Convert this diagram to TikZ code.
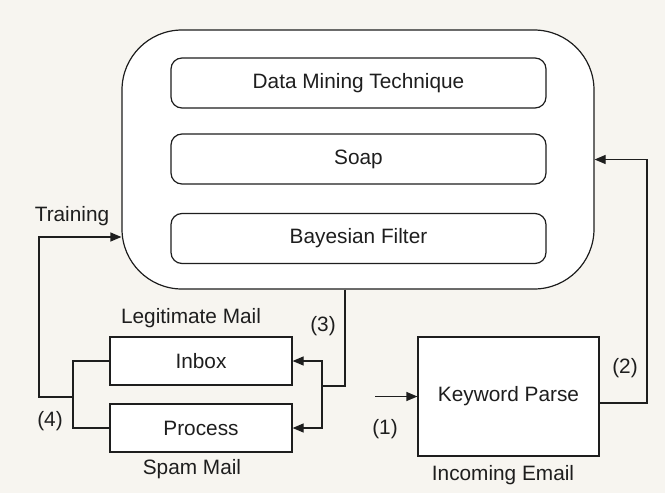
\documentclass[tikz,border=0pt]{standalone}
\usepackage{fontspec}
\setmainfont{Liberation Sans}
\usetikzlibrary{arrows.meta}
\definecolor{paper}{RGB}{247,245,240}
\definecolor{ink}{RGB}{30,30,30}

\begin{document}
\begin{tikzpicture}[x=1pt, y=-1pt,
        every node/.style={font=\fontsize{20.8}{24}\selectfont, text=ink},
        wire/.style={draw=ink, line width=1.2pt},
        tip/.style={-{Triangle[length=11pt, width=9pt]}},
        stage/.style={draw=ink, line width=1.2pt, fill=white, rounded corners=11pt,
            minimum width=375pt, minimum height=50pt},
        mailbox/.style={draw=ink, line width=1.2pt, fill=white,
            minimum width=182pt, minimum height=48pt}]
        % Fundo
        \fill[paper] (0,0) rectangle (665,493);

        % Bloco central com as tecnicas
        \node[draw=ink, line width=1.2pt, fill=white, rounded corners=60pt,
            minimum width=472pt, minimum height=259pt] (core) at (358,159.5) {};
        \node[stage] (dmt) at (358.5,83) {Data Mining Technique};
        \node[stage] (soap) at (358.5,159) {Soap};
        \node[stage] (bayes) at (358.5,238.5) {Bayesian Filter};

        % Caixas de correio
        \node[mailbox] (inbox) at (201,361) {Inbox};
        \node[mailbox] (process) at (201,428) {Process};
        \node at (191,318) {Legitimate Mail};
        \node at (192,469) {Spam Mail};

        % Parser
        \node[draw=ink, line width=1.2pt, fill=white, minimum width=181pt,
            minimum height=119pt] (parse) at (508.5,396.5) {Keyword Parse};
        \node at (503,475) {Incoming Email};

        % (1) entrada
        \coordinate (mailin) at (375,396.5);
        \draw[wire, tip] (mailin) -- (parse.west);
        \node at (385,429) {(1)};

        % (2) parser -> bloco central
        \coordinate (ret) at (647,403);
        \draw[wire, tip] (parse.east |- ret) -- (ret) |- (core.east);
        \node at (625,368) {(2)};

        % (3) classificacao
        \coordinate (drop) at (345,0);
        \coordinate (fork) at (322,386);
        \draw[wire] (core.south -| drop) |- (fork);
        \draw[wire, tip] (fork) |- (inbox.east);
        \draw[wire, tip] (fork) |- (process.east);
        \node at (323,326) {(3)};

        % (4) treino
        \coordinate (merge) at (73,397);
        \coordinate (back) at (39,397);
        \coordinate (train) at (0,237);
        \draw[wire] (inbox.west) -| (merge);
        \draw[wire] (process.west) -| (merge);
        \draw[wire, tip] (merge) -- (back) |- (core.west |- train);
        \node at (72,216) {Training};
        \node at (50,421) {(4)};
    \end{tikzpicture}
\end{document}
